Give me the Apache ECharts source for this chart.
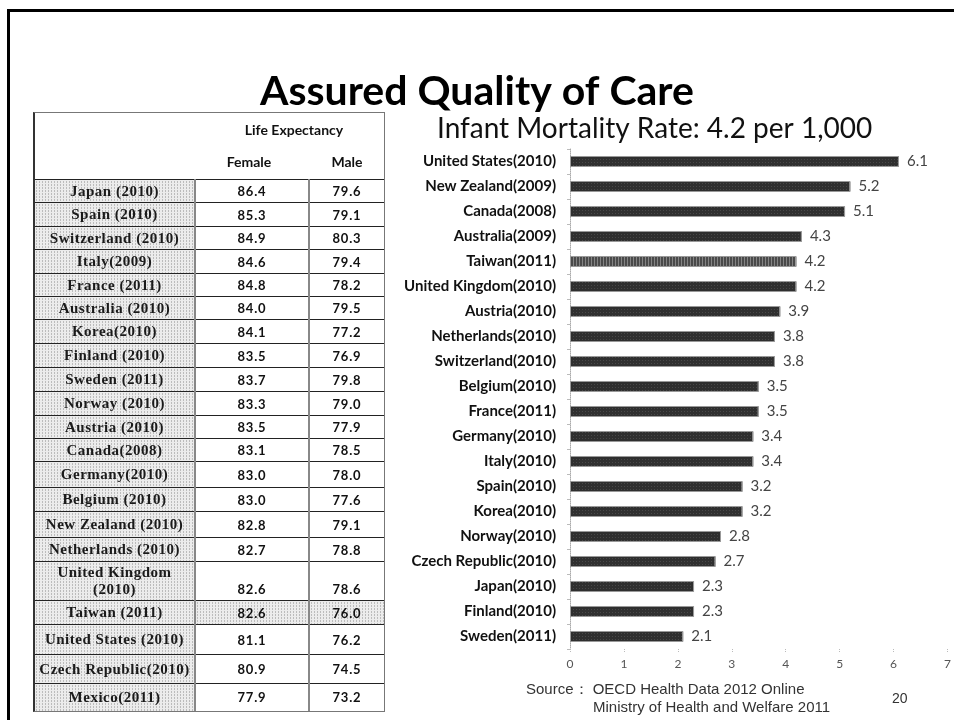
<!DOCTYPE html>
<html lang="en">
<head>
    <meta charset="UTF-8">
    <script src="https://cdn.jsdelivr.net/npm/echarts@6/dist/echarts.min.js"></script>
    <title>Assured Quality of Care</title>
    <style>
        * { margin: 0; padding: 0; }
        body { width: 954px; height: 720px; position: relative; overflow: hidden; background: #fff; }
        #main { position: absolute; left: 0; top: 0; width: 954px; height: 720px; }
        /* slide frame, only the left and top edges are in view */
        .frame {
            position: absolute; left: 7px; top: 9px; width: 960px; height: 730px;
            border-left: 3px solid #000; border-top: 3px solid #000; z-index: 2;
        }
        .life {
            position: absolute; left: 33px; top: 112px; width: 352px; z-index: 3;
            border: 1px solid #777; border-left: 2px solid #333; box-sizing: border-box;
        }
        .life .head { position: relative; height: 66px; }
        .life .head span {
            position: absolute; font: bold 14px Lato, sans-serif; color: #111;
            transform: translateX(-50%); white-space: nowrap;
        }
        .life table { border-collapse: collapse; table-layout: fixed; width: 100%; }
        .life td {
            border-top: 1px solid #222; border-right: 2px solid #888;
            text-align: center; vertical-align: middle; padding: 0;
            font: bold 13px Lato, sans-serif; letter-spacing: 0.8px; color: #111;
        }
        .life td:last-child { border-right: none; }
        .life td.name, .life tr.hl td {
            background-color: #ececec;
            background-image: radial-gradient(circle, #8c8c8c 0.7px, transparent 1px);
            background-size: 3px 3px;
        }
        .life td.name {
            font: bold 15px "Liberation Serif", serif; letter-spacing: 0.5px; color: #1a1a1a; line-height: 17px;
        }
        .life tr.wrap td:not(.name) { vertical-align: bottom; padding-bottom: 3px; }
    </style>
</head>
<body>
<div id="main"></div>
<div class="frame"></div>
<div class="life" id="life">
    <div class="head">
        <span style="left:259px; top:8px;">Life Expectancy</span>
        <span style="left:214px; top:40px;">Female</span>
        <span style="left:312px; top:40px;">Male</span>
    </div>
    <table id="lifeTable">
        <colgroup><col style="width:160px"><col style="width:114px"><col></colgroup>
        <tbody></tbody>
    </table>
</div>
<script>
    // life expectancy table
    var lifeCountries = [
        'Japan (2010)', 'Spain (2010)', 'Switzerland (2010)', 'Italy(2009)', 'France (2011)',
        'Australia (2010)', 'Korea(2010)', 'Finland (2010)', 'Sweden (2011)', 'Norway (2010)',
        'Austria (2010)', 'Canada(2008)', 'Germany(2010)', 'Belgium (2010)', 'New Zealand (2010)',
        'Netherlands (2010)', 'United Kingdom\n(2010)', 'Taiwan (2011)', 'United States (2010)',
        'Czech Republic(2010)', 'Mexico(2011)'
    ];
    var lifeFemale = ['86.4', '85.3', '84.9', '84.6', '84.8', '84.0', '84.1', '83.5', '83.7', '83.3',
        '83.5', '83.1', '83.0', '83.0', '82.8', '82.7', '82.6', '82.6', '81.1', '80.9', '77.9'];
    var lifeMale = ['79.6', '79.1', '80.3', '79.4', '78.2', '79.5', '77.2', '76.9', '79.8', '79.0',
        '77.9', '78.5', '78.0', '77.6', '79.1', '78.8', '78.6', '76.0', '76.2', '74.5', '73.2'];
    var lifeHighlight = 'Taiwan (2011)';

    // infant mortality chart
    var imrCountries = [
        'United States(2010)', 'New Zealand(2009)', 'Canada(2008)', 'Australia(2009)', 'Taiwan(2011)',
        'United Kingdom(2010)', 'Austria(2010)', 'Netherlands(2010)', 'Switzerland(2010)', 'Belgium(2010)',
        'France(2011)', 'Germany(2010)', 'Italy(2010)', 'Spain(2010)', 'Korea(2010)',
        'Norway(2010)', 'Czech Republic(2010)', 'Japan(2010)', 'Finland(2010)', 'Sweden(2011)'
    ];
    var imrValues = [6.1, 5.2, 5.1, 4.3, 4.2, 4.2, 3.9, 3.8, 3.8, 3.5, 3.5, 3.4, 3.4, 3.2, 3.2, 2.8, 2.7, 2.3, 2.3, 2.1];
    var imrHighlight = 'Taiwan(2011)';

    // row heights of the table, layout only
    var rowHeights = [23, 24, 23, 24, 23, 23, 24, 24, 24, 24, 23, 23, 26, 24, 26, 24, 39, 24, 30, 29, 27];

    var tbody = document.querySelector('#lifeTable tbody');
    lifeCountries.forEach(function (name, i) {
        var tr = document.createElement('tr');
        tr.style.height = rowHeights[i] + 'px';
        if (name === lifeHighlight) tr.className = 'hl';
        if (name.indexOf('\n') >= 0) tr.className = 'wrap';
        tr.innerHTML = '<td class="name">' + name.replace('\n', '<br>') + '</td>' +
            '<td>' + lifeFemale[i] + '</td><td>' + lifeMale[i] + '</td>';
        tbody.appendChild(tr);
    });

    var chartDom = document.getElementById('main');
    var myChart = echarts.init(chartDom);
    var option;

    var barDecal = {
        symbol: 'rect',
        symbolSize: 0.7,
        dashArrayX: [1, 2],
        dashArrayY: [1, 2],
        color: 'rgba(210,210,210,0.45)'
    };

    option = {
        backgroundColor: '#fff',
        animation: false,
        title: [
            {
                text: 'Assured Quality of Care',
                left: 'center',
                top: 66,
                textStyle: { fontFamily: 'Lato', fontWeight: 'bold', fontSize: 41, color: '#000' }
            },
            {
                text: 'Infant Mortality Rate: 4.2 per 1,000',
                left: 432,
                top: 110,
                textStyle: { fontFamily: 'Lato', fontWeight: 'normal', fontSize: 28, color: '#111' }
            }
        ],
        grid: {
            left: 570,
            right: 5,
            top: 149,
            bottom: 71,
            containLabel: false
        },
        xAxis: {
            type: 'value',
            min: 0,
            max: 7,
            interval: 1,
            splitLine: { show: false },
            axisLine: { show: false },
            axisTick: { show: true, length: 3, lineStyle: { color: '#bbb', type: 'dotted' } },
            axisLabel: { color: '#555', fontFamily: 'Lato', fontSize: 12, margin: 9 }
        },
        yAxis: {
            type: 'category',
            inverse: true,
            data: imrCountries,
            axisLine: { show: true, lineStyle: { color: '#aaa', type: 'dotted' } },
            axisTick: { show: true, length: 3, lineStyle: { color: '#bbb' } },
            axisLabel: { color: '#111', fontFamily: 'Lato', fontWeight: 'bold', fontSize: 15, margin: 14 }
        },
        series: [
            {
                type: 'bar',
                barWidth: 11,
                data: imrValues.map(function (v, i) {
                    if (imrCountries[i] === imrHighlight) {
                        return {
                            value: v,
                            itemStyle: {
                                color: '#4a4a4a',
                                decal: { symbol: 'rect', symbolSize: 1, dashArrayX: [1, 2], dashArrayY: [2, 0], color: 'rgba(220,220,220,0.4)' }
                            }
                        };
                    }
                    return v;
                }),
                itemStyle: {
                    color: '#2f2f2f',
                    borderColor: '#999',
                    borderWidth: 1,
                    decal: barDecal
                },
                label: {
                    show: true,
                    position: 'right',
                    distance: 8,
                    color: '#444',
                    fontFamily: 'Lato',
                    fontSize: 15
                }
            }
        ],
        graphic: [
            {
                type: 'text', left: 526, top: 682,
                style: { text: 'Source： OECD Health Data 2012 Online', font: '15px "Liberation Sans"', fill: '#333' }
            },
            {
                type: 'text', left: 593, top: 700,
                style: { text: 'Ministry of Health and Welfare 2011', font: '15px "Liberation Sans"', fill: '#333' }
            },
            {
                type: 'text', left: 892, top: 692,
                style: { text: '20', font: '14px "Liberation Sans"', fill: '#333' }
            }
        ]
    };

    option && myChart.setOption(option);
</script>
</body>
</html>
